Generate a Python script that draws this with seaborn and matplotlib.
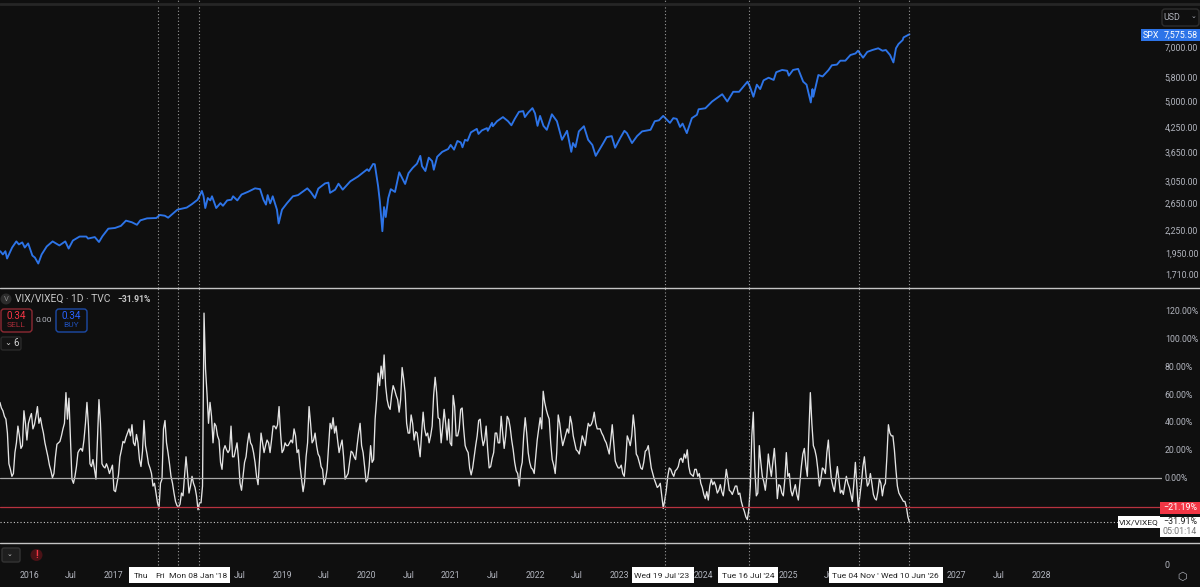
import numpy as np
import pandas as pd
import matplotlib.pyplot as plt
from matplotlib.lines import Line2D
from matplotlib.patches import FancyBboxPatch, Circle
from matplotlib.transforms import IdentityTransform
import seaborn as sns

# SPX (decimal year, index level)
spx_years = [2015.66, 2015.69, 2015.72, 2015.74, 2015.80, 2015.85, 2015.88, 2015.92, 2015.95, 2015.99,
             2016.04, 2016.07, 2016.11, 2016.15, 2016.21, 2016.28, 2016.36, 2016.43, 2016.47, 2016.52,
             2016.60, 2016.68, 2016.70, 2016.78, 2016.83, 2016.87, 2016.94, 2017.02, 2017.09, 2017.15,
             2017.22, 2017.28, 2017.32, 2017.40, 2017.51, 2017.55, 2017.61, 2017.65, 2017.76, 2017.87,
             2017.93, 2018.00, 2018.05, 2018.07, 2018.09, 2018.12, 2018.15, 2018.17, 2018.22, 2018.27,
             2018.30, 2018.35, 2018.40, 2018.42, 2018.47, 2018.52, 2018.60, 2018.68, 2018.74, 2018.78,
             2018.81, 2018.83, 2018.86, 2018.89, 2018.94, 2018.96, 2019.00, 2019.06, 2019.13, 2019.19,
             2019.30, 2019.34, 2019.39, 2019.43, 2019.51, 2019.55, 2019.57, 2019.63, 2019.67, 2019.72,
             2019.81, 2019.90, 2020.01, 2020.03, 2020.08, 2020.10, 2020.14, 2020.16, 2020.19, 2020.21,
             2020.23, 2020.26, 2020.29, 2020.34, 2020.39, 2020.46, 2020.50, 2020.55, 2020.60, 2020.64,
             2020.66, 2020.70, 2020.74, 2020.78, 2020.80, 2020.84, 2020.90, 2020.97, 2021.00, 2021.04,
             2021.08, 2021.12, 2021.14, 2021.17, 2021.20, 2021.24, 2021.31, 2021.33, 2021.37, 2021.43,
             2021.44, 2021.49, 2021.50, 2021.55, 2021.62, 2021.68, 2021.72, 2021.76, 2021.81, 2021.86,
             2021.88, 2021.92, 2021.97, 2022.00, 2022.03, 2022.06, 2022.10, 2022.14, 2022.20, 2022.26,
             2022.32, 2022.38, 2022.43, 2022.45, 2022.48, 2022.52, 2022.58, 2022.63, 2022.68, 2022.72,
             2022.81, 2022.85, 2022.91, 2022.95, 2023.01, 2023.06, 2023.09, 2023.15, 2023.21, 2023.27,
             2023.37, 2023.42, 2023.47, 2023.52, 2023.60, 2023.64, 2023.68, 2023.72, 2023.75, 2023.80,
             2023.86, 2023.92, 2023.94, 2024.02, 2024.10, 2024.22, 2024.28, 2024.35, 2024.42, 2024.52,
             2024.55, 2024.59, 2024.63, 2024.67, 2024.71, 2024.77, 2024.83, 2024.86, 2024.93, 2024.99,
             2025.01, 2025.06, 2025.12, 2025.18, 2025.22, 2025.27, 2025.29, 2025.30, 2025.36, 2025.41,
             2025.48, 2025.52, 2025.58, 2025.62, 2025.68, 2025.74, 2025.80, 2025.83, 2025.89, 2025.94,
             2026.00, 2026.07, 2026.12, 2026.16, 2026.21, 2026.25, 2026.28, 2026.31, 2026.36, 2026.37,
             2026.44]
spx_values = [1969, 1930, 1969, 1882, 2015, 2093, 2054, 2080, 2015, 2067,
              1917, 1893, 1824, 1930, 2028, 2093, 2041, 2093, 2002, 2104,
              2157, 2157, 2130, 2150, 2085, 2160, 2265, 2275, 2305, 2381,
              2357, 2320, 2385, 2415, 2420, 2466, 2455, 2425, 2549, 2582,
              2636, 2712, 2863, 2770, 2575, 2740, 2700, 2770, 2575, 2655,
              2611, 2700, 2712, 2770, 2700, 2800, 2850, 2910, 2895, 2712,
              2630, 2790, 2650, 2770, 2549, 2340, 2549, 2655, 2770, 2790,
              2910, 2845, 2740, 2905, 3000, 3015, 2830, 2886, 2995, 2886,
              3040, 3130, 3275, 3240, 3385, 3380, 2945, 2685, 2230, 2590,
              2435, 2740, 2895, 2845, 3215, 2990, 3197, 3305, 3390, 3560,
              3340, 3240, 3520, 3445, 3266, 3540, 3650, 3715, 3810, 3700,
              3905, 3870, 3755, 3934, 3910, 4120, 4210, 4080, 4170, 4230,
              4160, 4370, 4280, 4415, 4530, 4415, 4305, 4480, 4680, 4700,
              4530, 4660, 4790, 4635, 4290, 4563, 4290, 4185, 4610, 4415,
              3934, 4160, 3650, 3855, 3760, 4145, 4280, 3934, 3810, 3560,
              3855, 4000, 4025, 3745, 3975, 4160, 4100, 3855, 4025, 4145,
              4185, 4415, 4440, 4563, 4370, 4500, 4480, 4260, 4350, 4100,
              4500, 4595, 4755, 4785, 4990, 5220, 4990, 5300, 5300, 5645,
              5460, 5140, 5540, 5390, 5690, 5785, 5705, 5985, 6070, 6040,
              5860, 6070, 6110, 5645, 5540, 4960, 5390, 5140, 5883, 5830,
              6065, 6250, 6275, 6430, 6430, 6660, 6725, 6840, 6550, 6790,
              6870, 6945, 6840, 6870, 6660, 6360, 6945, 7130, 7310, 7430,
              7575.58]

# VIX/VIXEQ in percent, one reading every 13 days from 2015-08-28
vix_start = "2015-08-28"
vix_values = [54, 48, 42, 10, 1, 18, 37, 21, 48, 27,
              43, 35, 44, 39, 37, 25, 15, 5, 3, 24,
              26, 35, 61, 57, -1, 1, 18, 21, 27, 54,
              10, 13, -1, 56, 10, 7, 7, 6, -9, -4,
              15, 26, 29, 35, 38, 23, 25, 8, 41, 17,
              7, -6, -11, -22, -1, 41, 18, 1, -11, -20,
              -19, -13, 15, -11, 1, -7, -23, -18, 118, 60,
              54, 25, 37, 27, 6, 23, 18, 37, 15, 25,
              -4, 1, 15, 32, 23, 11, -5, 32, 18, 27,
              18, 37, 35, 51, 18, 25, 23, 27, 35, 18,
              8, -10, 15, 51, 25, 32, 17, 8, -5, 6,
              39, 43, 37, 18, 27, -1, 3, 19, 15, 23,
              39, 18, -3, 8, 11, 42, 75, 80, 88, 56,
              49, 66, 59, 47, 79, 61, 32, 45, 27, 32,
              15, 47, 30, 25, 37, 72, 43, 25, 49, 27,
              25, 59, 30, 35, 50, 23, 18, 2, 15, 30,
              42, 23, 37, 7, 14, 32, 25, 44, 21, 44,
              36, 20, 5, -6, 11, 43, 18, 7, 3, 27,
              43, 62, 49, 42, 13, 3, 45, 30, 27, 35,
              44, 30, 20, 17, 30, 23, 39, 38, 47, 35,
              35, 30, 25, 17, 38, 12, 7, 9, 1, 30,
              23, 45, 17, 11, 6, 19, 23, 7, -1, -7,
              -4, -22, -9, 7, 3, 5, 8, 14, 17, 20,
              3, 1, 6, 3, -7, -15, -16, -1, -3, -11,
              -5, -13, 6, -9, -12, -6, -12, -17, -24, -30,
              -6, 47, -13, 23, 1, -9, 17, 1, 21, -15,
              -6, -13, 18, 3, -13, -5, -16, 8, 21, 1,
              61, 23, 15, -6, 7, 3, 27, -1, -10, 8,
              -11, -12, 1, -7, -17, 11, -23, -4, 15, -6,
              3, -12, -16, -1, -13, -4, 38, 30, 20, -6,
              -13, -17, -21, -31.91]

# readings half way between the ones above
vix_mid_values = [50, 44, 32, 6, 3, 25, 30, 23, 39, 39,
                  46, 38, 51, 43, 32, 20, 9, 0, 15, 25,
                  30, 39, 42, 27, -4, 8, 20, 19, 39, 37,
                  8, 6, 27, 39, 8, 10, 3, 9, -10, 2,
                  20, 25, 32, 30, 25, 31, 13, 19, 23, 10,
                  3, -4, -18, -4, 35, 25, 10, -4, -17, -21,
                  -11, 1, 3, -6, -4, -13, -18, -6, 78, 39,
                  44, 39, 30, 11, 20, 20, 20, 15, 20, 13,
                  -9, 11, 25, 25, 18, 1, 13, 25, 23, 25,
                  27, 37, 38, 32, 20, 23, 25, 25, 30, 20,
                  -1, -3, 25, 39, 27, 23, 15, 6, -1, 23,
                  35, 32, 27, 23, 15, 1, 11, 18, 13, 32,
                  23, 8, -1, 23, 13, 56, 66, 71, 66, 51,
                  59, 63, 56, 56, 71, 39, 32, 39, 33, 23,
                  32, 35, 32, 30, 59, 61, 42, 36, 39, 42,
                  23, 51, 30, 49, 35, 20, 7, 7, 23, 41,
                  30, 27, 20, 8, 18, 32, 25, 32, 30, 42,
                  27, 11, 3, 6, 30, 32, 11, 6, 15, 35,
                  35, 54, 45, 25, 9, 18, 39, 23, 31, 32,
                  39, 25, 19, 23, 27, 32, 37, 41, 39, 35,
                  32, 27, 21, 27, 25, 9, 7, 3, 13, 27,
                  30, 35, 15, 7, 11, 20, 15, 3, -4, -6,
                  -13, -16, 1, 6, 1, 6, 13, 11, 14, 8,
                  2, 6, 1, -4, -12, -10, -6, -5, -6, -9,
                  -10, -4, -1, -10, -9, -6, -11, -21, -28, -23,
                  30, 6, -11, 11, -3, 1, 8, 11, 6, -5,
                  -11, -1, 1, -9, -9, -12, -4, 17, 9, 30,
                  39, 20, 6, -1, 6, 18, 11, -6, -1, -1,
                  -9, -5, -4, -12, -4, -6, -13, 8, 3, -4,
                  -4, -15, -10, -4, -6, 15, 32, 30, 6, -11,
                  -15, -17, -28]

spx_ticks = [1710, 1950, 2250, 2650, 3050, 3650, 4250, 5000, 5800, 7000]
pct_ticks = [0, 20, 40, 60, 80, 100, 120]
# the labels behind the date flags are left out
time_ticks = ["2016-01-01", "2016-07-01", "2017-01-01", "2018-07-01",
              "2019-01-01", "2019-07-01", "2020-01-01", "2020-07-01", "2021-01-01", "2021-07-01",
              "2022-01-01", "2022-07-01", "2023-01-01", "2024-01-01",
              "2025-01-01", "2025-07-01", "2027-01-01", "2027-07-01",
              "2028-01-01"]
time_labels = ["2016", "Jul", "2017", "Jul", "2019", "Jul", "2020", "Jul", "2021", "Jul",
               "2022", "Jul", "2023", "2024", "2025", "Jul", "2027", "Jul", "2028"]
marked_dates = ["2017-07-13", "2017-10-06", "2018-01-08", "2023-07-19", "2024-07-16", "2025-11-04", "2026-06-10"]

BG = "#0f0f0f"
GREY = "#b2b5be"
BLUE = "#2d74e8"
RED = "#f23645"

sns.set_theme(style="dark", rc={"axes.facecolor": BG, "figure.facecolor": BG, "savefig.facecolor": BG})
plt.rcParams["font.family"] = ["Roboto", "DejaVu Sans"]

W, H = 1200, 587
fig = plt.figure(figsize=(W / 100, H / 100), dpi=100)
PX = IdentityTransform()


def pane(top, bottom, right=1162):
    return fig.add_axes([0, 1 - bottom / H, right / W, (bottom - top) / H])


def label(x, y, s, color=GREY, size=6.4, ha="center", **kw):
    return fig.text(x / W, 1 - y / H, s, color=color, fontsize=size, ha=ha, va="center", **kw)


def box(x0, y0, x1, y1, fc, ec="none", rounding=0, lw=1.0):
    fig.add_artist(FancyBboxPatch((x0, H - y1), x1 - x0, y1 - y0, transform=PX,
                                  boxstyle=f"round,pad=0,rounding_size={rounding}", fc=fc, ec=ec, lw=lw))


ax_spx = pane(0, 288)
ax_vix = pane(288, 543)
ax_time = pane(543, 587)

base = pd.Timestamp("2016-01-01")
spx_dates = base + pd.to_timedelta((np.array(spx_years) - 2016) * 365.25, unit="D")
vix_dates = pd.date_range(vix_start, periods=len(vix_values), freq="13D")
vix_mid_dates = vix_dates[:len(vix_mid_values)] + pd.Timedelta(days=6.5)
vix = pd.DataFrame({"date": list(vix_dates) + list(vix_mid_dates), "pct": vix_values + vix_mid_values})
xlim = (base - pd.Timedelta(days=125.6), base + pd.Timedelta(days=4907))

sns.lineplot(x=spx_dates, y=spx_values, ax=ax_spx, color=BLUE, linewidth=1.35, estimator=None)
sns.lineplot(data=vix, x="date", y="pct", ax=ax_vix, color="#e4e4e4", linewidth=0.95, estimator=None)

ax_spx.set_yscale("log")
ax_spx.set_ylim(1567, 9373)
ax_spx.set_yticks(spx_ticks, [f"{v:,.2f}" for v in spx_ticks])
ax_spx.minorticks_off()

ax_vix.set_ylim(-46.8, 136)
ax_vix.set_yticks(pct_ticks, [f"{v:.2f}%" for v in pct_ticks])
ax_vix.axhline(0, color="#a8a8a8", linewidth=0.9)
ax_vix.axhline(-21.19, color="#b8323f", linewidth=0.9)
ax_vix.axhline(-31.91, color="#c8c8c8", linewidth=0.8, linestyle=(0, (1, 2)))

ax_time.set_ylim(0, 44)
ax_time.set_yticks([])
ax_time.set_xticks(pd.to_datetime(time_ticks), time_labels)

for ax in (ax_spx, ax_vix, ax_time):
    ax.set_xlim(*xlim)
    ax.set_xlabel("")
    ax.set_ylabel("")
    ax.grid(False)
    ax.yaxis.tick_right()
    ax.tick_params(length=0, labelsize=6.3, labelcolor=GREY, pad=2)
    ax.patch.set_alpha(0)
    sns.despine(ax=ax, left=True, right=True, top=True, bottom=True)
ax_spx.set_xticks([])
ax_vix.set_xticks([])
ax_time.xaxis.tick_bottom()
ax_time.tick_params(axis="x", pad=-11.5, labelsize=6.3)

# session markers run through all three panes
for d in pd.to_datetime(marked_dates):
    ax_spx.axvline(d, color="#9a9a9a", linewidth=0.8, linestyle=(0, (1, 2)))
    ax_vix.axvline(d, color="#9a9a9a", linewidth=0.8, linestyle=(0, (1, 2)))
    ax_time.axvline(d, ymin=0.5, color="#9a9a9a", linewidth=0.8, linestyle=(0, (1, 2)))

# date flags on the time scale, the overlapped ones only show their first word
for x0, x1 in [(129, 230), (632, 694), (718, 778), (829, 943)]:
    box(x0, 567, x1, 583, "white")
for x, s in [(141, "Thu"), (160, "Fri"), (198, "Mon 08 Jan '18"), (662, "Wed 19 Jul '23"),
             (748, "Tue 16 Jul '24"), (855, "Tue 04 Nov '"), (910, "Wed 10 Jun '26")]:
    label(x, 575.5, s, color="#222222", size=6.1)

# pane separators
for y, c, lw in [(288, "#c4c4c4", 1.0), (543, "#c4c4c4", 1.0), (4, "#262626", 2.0)]:
    fig.add_artist(Line2D([0, 1], [1 - y / H] * 2, color=c, linewidth=lw))

# price scale boxes
box(1162, 9, 1199, 26, BG, "#2e2e2e", 3)
label(1172, 17, "USD")
label(1194, 17, "⌄", size=5)
box(1141, 29, 1160, 41, BLUE)
label(1150.5, 35, "SPX", color="white")
box(1160, 29, 1200, 41, BLUE)
label(1181, 35, "7,575.58", color="white")
box(1160, 502, 1200, 514, RED)
label(1180, 508, "−21.19%", color="white")
box(1118, 516, 1160, 528, "white")
label(1139, 522, "VIX/VIXEQ", color="#222222", size=6)
box(1160, 517, 1200, 537, "white")
label(1180, 522, "−31.91%", color="#222222")
label(1180, 532, "05:01:14", color="#777777")
label(1167, 565, "0")
label(1182, 577, "⬡", size=8, family=["DejaVu Sans"])

# legend block of the lower pane
fig.add_artist(Circle((6, H - 299), 5.5, transform=PX, fc="#2c2c2c", ec="none"))
label(6, 299, "V", color="#8a8a8a", size=5.5)
label(15, 299, "VIX/VIXEQ · 1D · TVC", color="#c8c8c8", size=7.4, ha="left")
label(117, 299, "−31.91%", color="#c8c8c8", size=6.2, ha="left", weight="bold")
box(1, 309, 32, 332, BG, "#8c2a33", 3)
label(16.5, 316, "0.34", color=RED, size=7.2)
label(16.5, 325, "SELL", color="#a82c38", size=6)
label(44, 320, "0.00", size=6)
box(56, 309, 87, 332, BG, "#1c4aa6", 3)
label(71.5, 316, "0.34", color="#2962ff", size=7.2)
label(71.5, 325, "BUY", color="#1f4fb8", size=6)
box(1, 337, 21, 350, "#141414", "#2a2a2a", 2)
label(8, 343, "⌄", color="#d0d0d0", size=6)
label(16, 343.5, "6", color="#d0d0d0", size=7)

# small controls under the lower pane
box(2, 548, 20, 562, "#1e1e1e", "#333333", 2)
label(10, 555, "⌄", color="#cccccc", size=5)
fig.add_artist(Circle((36.5, H - 555), 6, transform=PX, fc="#4a1216", ec="none"))
label(36.5, 555, "!", color=RED, size=7, weight="bold")

fig.savefig("out.png", dpi=100)
